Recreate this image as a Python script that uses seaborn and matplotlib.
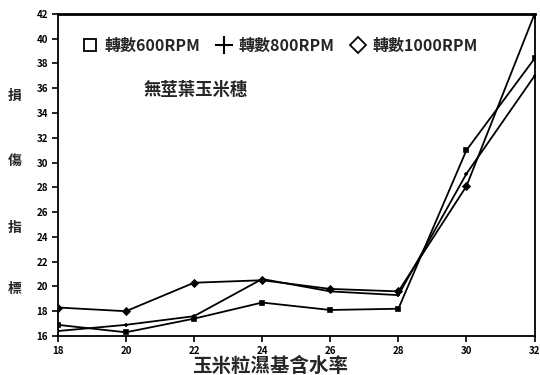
import matplotlib
matplotlib.use("Agg")
import matplotlib.pyplot as plt
from matplotlib.lines import Line2D
import seaborn as sns
import pandas as pd

moisture = [18, 20, 22, 24, 26, 28, 30, 32]
rpm600 = [16.9, 16.3, 17.4, 18.7, 18.1, 18.2, 31.0, 38.4]
rpm800 = [16.4, 16.9, 17.6, 20.6, 19.6, 19.3, 29.1, 37.0]
rpm1000 = [18.3, 18.0, 20.3, 20.5, 19.8, 19.6, 28.1, 42.0]
series_names = ["轉數600RPM", "轉數800RPM", "轉數1000RPM"]
y_ticks = list(range(16, 43, 2))
x_ticks = list(range(18, 33, 2))

sns.set_theme(style="white")
plt.rcParams["font.family"] = ["Noto Sans CJK TC", "DejaVu Sans"]

fig = plt.figure(figsize=(5.4, 3.75), dpi=100)
ax = fig.add_axes([0.107, 0.104, 0.883, 0.859])

for vals, mk in zip([rpm600, rpm800, rpm1000], ["s", "+", "D"]):
    d = pd.DataFrame({"x": moisture, "y": vals})
    sns.lineplot(data=d, x="x", y="y", color="black", linewidth=1.3,
                 marker=mk, markersize=3.5, markeredgecolor="black",
                 markeredgewidth=1.2, ax=ax)

ax.set_xlim(18, 32)
ax.set_ylim(16, 42)
ax.set_xticks(x_ticks)
ax.set_yticks(y_ticks)
ax.set_xticklabels([str(v) for v in x_ticks], fontsize=7, fontweight="bold")
ax.set_yticklabels([str(v) for v in y_ticks], fontsize=7, fontweight="bold")
ax.tick_params(axis="both", direction="out", length=4, width=1.2, colors="black",
               left=True, bottom=True, pad=3)
for side, sp in ax.spines.items():
    sp.set_color("black")
    sp.set_linewidth(1.3)
ax.spines["top"].set_linewidth(2.0)
ax.set_xlabel("")
ax.set_ylabel("")

fig.text(0.5, 0.024, "玉米粒濕基含水率", ha="center", va="center",
         fontsize=14, fontweight="bold")
for ch, yy in zip("損傷指標", [0.745, 0.572, 0.392, 0.228]):
    fig.text(0.028, yy, ch, ha="center", va="center", fontsize=10, fontweight="bold")

ax.text(0.18, 0.764, "無莖葉玉米穗", transform=ax.transAxes, fontsize=12.5,
        fontweight="bold", va="center")

handles = [
    Line2D([], [], linestyle="none", marker="s", markersize=9,
           markerfacecolor="none", markeredgecolor="black", markeredgewidth=1.3),
    Line2D([], [], linestyle="none", marker="+", markersize=13,
           markeredgecolor="black", markeredgewidth=1.5),
    Line2D([], [], linestyle="none", marker="D", markersize=8,
           markerfacecolor="none", markeredgecolor="black", markeredgewidth=1.3),
]
leg = ax.legend(handles, series_names, loc="center left", bbox_to_anchor=(0.02, 0.9),
                ncol=3, frameon=False, handlelength=1.0, handletextpad=0.4,
                columnspacing=1.0, prop={"size": 11.5, "weight": "bold"})

fig.savefig("out.png", dpi=100)
